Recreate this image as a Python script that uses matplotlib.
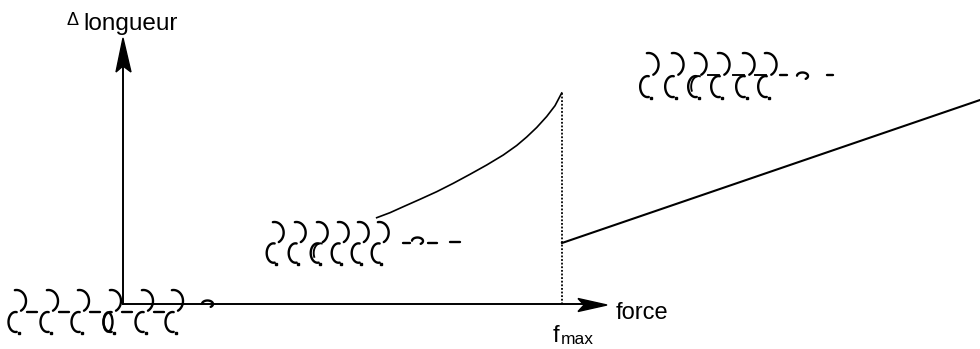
import numpy as np
import matplotlib
matplotlib.use("Agg")
import matplotlib.pyplot as plt
from matplotlib.patches import Polygon, Ellipse

plt.rcParams["font.family"] = ["Liberation Sans", "DejaVu Sans"]

# force / length response, in drawing units (pixels, y pointing down)
origin = (123, 304)
x_tip = 607
y_tip = 38

curve_force = [376.7, 390, 403.3, 420, 436.7, 453.3, 470, 486.7,
               503.3, 516.7, 526.7, 536.7, 546.7, 555, 561.7]
curve_length = [217.7, 212.7, 206.7, 199.3, 191.7, 183.3, 174.3, 165,
                155, 145.5, 137, 127.5, 116.5, 105.7, 93]

line_force = [562, 980]
line_length = [243, 100]

f_max = 562

# polymer chains: left edge of each coil and top of the row
rest_x = [15, 47, 78, 110, 142, 172]
rest_top = 290
mid_x = [273, 295, 317, 338, 358, 378]
mid_top = 222
high_x = [647, 672, 695, 718, 743, 765]
high_top = 53

LW = 1.7


def coil(ax, x, top, s=1.0, double=False, bar=False):
    # upper ")" arc
    t = np.radians(np.linspace(100, -62, 40))
    cx, cy = x + 1.5 * s, top + 11 * s
    ax.plot(cx + 9.5 * s * np.cos(t), cy - 11 * s * np.sin(t),
            color="black", lw=LW, solid_capstyle="round")
    # lower "(" arc
    t = np.radians(np.linspace(80, 280, 40))
    cx, cy = x + 0.5 * s, top + 32 * s
    ax.plot(cx + 7 * s * np.cos(t), cy - 10 * s * np.sin(t),
            color="black", lw=LW, solid_capstyle="round")
    if double:
        ax.plot(cx + 3 + 7 * s * np.cos(t[:25]), cy - 10 * s * np.sin(t[:25]),
                color="black", lw=LW * 0.8)
    if bar:
        ax.plot([x - 10 * s, x + 1 * s], [top + 21 * s, top + 21 * s],
                color="black", lw=LW * 0.8)
    ax.plot(cx + 3 * s, top + 43 * s, "s", color="black", ms=2.0)


def dash(ax, x0, x1, y):
    ax.plot([x0, x1], [y, y], color="black", lw=LW, solid_capstyle="round")


def hook(ax, x, y, w=11):
    t = np.radians(np.linspace(175, -55, 30))
    ax.plot(x + w / 2 + w / 2 * np.cos(t), y - 3.5 * np.sin(t),
            color="black", lw=LW, solid_capstyle="round")


fig = plt.figure(figsize=(9.8, 3.49), dpi=100)
ax = fig.add_axes([0, 0, 1, 1])
ax.set_xlim(0, 980)
ax.set_ylim(349, 0)
ax.axis("off")

# axes with arrow heads
ax.plot([origin[0], x_tip - 20], [origin[1], origin[1]], color="black", lw=1.4)
ax.plot([origin[0], origin[0]], [origin[1], y_tip + 20], color="black", lw=1.4)
ax.add_patch(Polygon([[x_tip, 305], [578, 298.5], [584, 305], [578, 311.5]],
                     closed=True, color="black"))
ax.add_patch(Polygon([[123, y_tip], [116, 72], [123, 66], [131, 72]],
                     closed=True, color="black"))

# response curve, threshold and post-threshold line
ax.plot(curve_force, curve_length, color="black", lw=1.2,
        solid_joinstyle="round")
ax.plot([f_max, f_max], [curve_length[-1], origin[1]], color="black",
        lw=1.3, linestyle=(0, (1, 1)))
ax.plot(line_force, line_length, color="black", lw=1.5)

# labels
ax.text(66, 25, "\u0394", fontsize=13, va="baseline", ha="left")
ax.text(83, 30, "longueur", fontsize=17.5, va="baseline", ha="left")
ax.text(616, 319, "force", fontsize=17, va="baseline", ha="left")
ax.text(553, 342, "f", fontsize=17, va="baseline", ha="left")
ax.text(561, 344, "max", fontsize=12.5, va="baseline", ha="left")

# relaxed chain at the origin
for i, x in enumerate(rest_x):
    coil(ax, x, rest_top)
    if i < len(rest_x) - 1:
        dash(ax, x + 12, x + 22, rest_top + 22)
ax.add_patch(Ellipse((108, 322), 9, 19, fill=False, lw=LW, color="black"))
hook(ax, 202, 304)

# chain under moderate force
for i, x in enumerate(mid_x):
    coil(ax, x, mid_top, s=0.97, double=(i == 2))
dash(ax, 403, 410, 243)
hook(ax, 412, 241)
dash(ax, 428, 437, 243)
dash(ax, 450, 460, 242)

# chain beyond f_max
for i, x in enumerate(high_x):
    coil(ax, x, high_top, s=1.05, double=(i == 2), bar=(i >= 3))
dash(ax, 780, 787, 75)
hook(ax, 797, 76)
dash(ax, 827, 833, 75)

fig.savefig("out.png", dpi=100)
